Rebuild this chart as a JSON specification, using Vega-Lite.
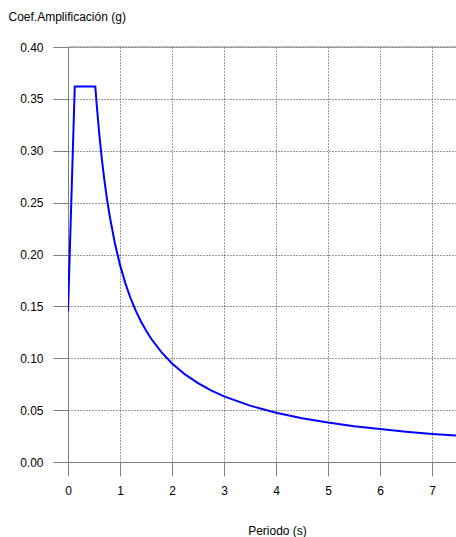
{
  "$schema": "https://vega.github.io/schema/vega-lite/v6.json",
  "autosize": "none",
  "width": 388,
  "height": 415,
  "padding": {"left": 68, "top": 47, "right": 0, "bottom": 75},
  "background": "white",
  "config": {
    "view": {"stroke": null},
    "font": "Liberation Sans",
    "axis": {
      "labelFont": "Liberation Sans",
      "titleFont": "Liberation Sans",
      "labelFontSize": 12,
      "titleFontSize": 12,
      "titleFontWeight": "normal",
      "labelColor": "#000000",
      "titleColor": "#000000",
      "domainColor": "#808080",
      "tickColor": "#808080",
      "gridColor": "#222222",
      "gridDash": [1, 2],
      "gridOpacity": 0.9,
      "labelFlush": false
    }
  },
  "data": {
    "values": [
      {"T": 0, "A": 0.145},
      {"T": 0.13, "A": 0.362},
      {"T": 0.525, "A": 0.362},
      {"T": 0.55, "A": 0.3455},
      {"T": 0.6, "A": 0.3167},
      {"T": 0.65, "A": 0.2923},
      {"T": 0.7, "A": 0.2714},
      {"T": 0.75, "A": 0.2533},
      {"T": 0.8, "A": 0.2375},
      {"T": 0.9, "A": 0.2111},
      {"T": 1.0, "A": 0.19},
      {"T": 1.1, "A": 0.1727},
      {"T": 1.2, "A": 0.1583},
      {"T": 1.3, "A": 0.1462},
      {"T": 1.4, "A": 0.1357},
      {"T": 1.5, "A": 0.1267},
      {"T": 1.6, "A": 0.1188},
      {"T": 1.8, "A": 0.1056},
      {"T": 2.0, "A": 0.095},
      {"T": 2.25, "A": 0.0844},
      {"T": 2.5, "A": 0.076},
      {"T": 2.75, "A": 0.0691},
      {"T": 3.0, "A": 0.0633},
      {"T": 3.5, "A": 0.0543},
      {"T": 4.0, "A": 0.0475},
      {"T": 4.5, "A": 0.0422},
      {"T": 5.0, "A": 0.038},
      {"T": 5.5, "A": 0.0345},
      {"T": 6.0, "A": 0.0317},
      {"T": 6.5, "A": 0.0292},
      {"T": 7.0, "A": 0.0271},
      {"T": 7.5, "A": 0.0253}
    ]
  },
  "layer": [
    {
      "mark": {"type": "line", "color": "#0000ff", "strokeWidth": 2, "clip": true},
      "encoding": {
        "x": {
          "field": "T",
          "type": "quantitative",
          "scale": {"domain": [0, 7.46], "nice": false, "zero": false},
          "axis": {
            "title": "Periodo (s)",
            "titleX": 209,
            "titleY": 72,
            "titleAlign": "center",
            "titleBaseline": "alphabetic",
            "values": [0, 1, 2, 3, 4, 5, 6, 7],
            "format": "d",
            "tickSize": 14,
            "labelPadding": 9,
            "grid": true
          }
        },
        "y": {
          "field": "A",
          "type": "quantitative",
          "scale": {"domain": [0, 0.4], "nice": false},
          "axis": {
            "title": "Coef.Amplificación (g)",
            "titleAngle": 0,
            "titleAlign": "left",
            "titleBaseline": "alphabetic",
            "titleX": -60,
            "titleY": -27,
            "values": [0, 0.05, 0.1, 0.15, 0.2, 0.25, 0.3, 0.35, 0.4],
            "format": ".2f",
            "tickSize": 15,
            "labelPadding": 10,
            "grid": true
          }
        }
      }
    },
    {
      "mark": {"type": "rule", "color": "#808080", "strokeWidth": 1},
      "data": {"values": [{"top": 0.4}]},
      "encoding": {
        "y": {"field": "top", "type": "quantitative"}
      }
    }
  ]
}
